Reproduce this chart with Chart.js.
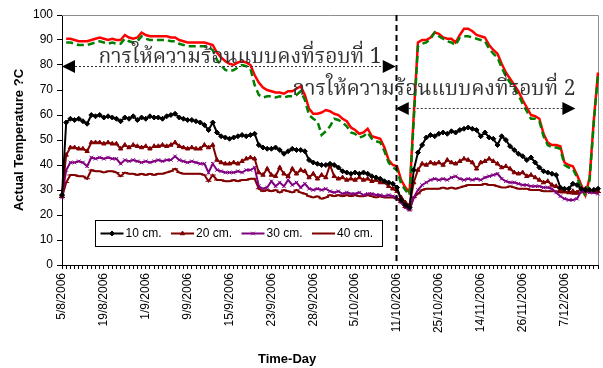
<!DOCTYPE html>
<html>
<head>
<meta charset="utf-8">
<script src="https://cdn.jsdelivr.net/npm/chart.js@4.4.1/dist/chart.umd.min.js"></script>
<style>
  html, body { margin: 0; padding: 0; background: #fff; }
  canvas { display: block; }
</style>
</head>
<body>
<canvas id="chart" width="603" height="368"></canvas>
<script>
// Dates printed under the axis, one every POINTS_PER_TICK readings
const tickDates = ['5/8/2006', '19/8/2006', '1/9/2006', '9/9/2006', '15/9/2006', '23/9/2006',
  '28/9/2006', '5/10/2006', '11/10/2006', '25/10/2006', '14/11/2006', '26/11/2006', '7/12/2006'];
const POINTS_PER_TICK = 10;

// Soil temperature (°C) at each depth
const depth10 = [
  28, 57, 58.5, 58, 58.5, 57.5, 56.5, 60, 59.5, 60,
  59, 59.5, 59, 58.5, 57.5, 59, 58.5, 59.5, 58, 59,
  58.5, 59.5, 59, 59, 58.5, 59.5, 60, 60.5, 59, 58.5,
  58, 58, 57.5, 57, 56, 54, 57, 53, 51.5, 51,
  50.5, 51, 51.5, 52, 51.5, 52, 52.5, 48, 47, 46.5,
  46.5, 47, 46, 44.5, 45.5, 46.5, 46, 46, 45.5, 42,
  41, 40.5, 40, 40, 40.5, 40, 39, 37.5, 37, 36.5,
  37, 36.5, 37, 36.5, 35.5, 35, 34.5, 33.5, 33, 32.5,
  31, 26, 24, 23, 38, 45, 48, 51, 52, 51.5,
  52.5, 53, 52.5, 53.5, 53, 54, 54.5, 55, 54.5, 54,
  51.5, 53, 51, 50.5, 48, 51.5, 50, 47.5, 46, 44.5,
  43.5, 42, 43, 41, 39, 37.5, 37, 36.5, 36, 31,
  30.5, 30.5, 32.5, 32, 30.5, 30, 30, 30, 30.5
];
const depth20 = [
  28, 44, 47, 47, 46.5, 46.5, 45.5, 49, 49, 49,
  48.5, 49, 48.5, 48.5, 46.5, 48, 47, 48, 47.5, 47,
  47.5, 46.5, 47.5, 47.5, 48, 47.5, 48, 49, 47.5, 47,
  46.5, 47, 46.5, 46.5, 48, 47, 48, 42, 41, 40.5,
  40.5, 41, 40.5, 41.5, 42.5, 43, 42.5, 37, 36, 38.5,
  36, 35.5, 39, 36.5, 35.5, 38.5, 36.5, 38, 37.5, 35,
  36.5, 34.5, 36, 35, 40, 35.5, 34.5, 35, 34, 34.5,
  34, 35, 34, 34.5, 33.5, 34, 33, 33, 31.5, 30.5,
  29.5, 27, 25, 24, 33, 38, 40.5, 40, 41, 40.5,
  41, 40, 42, 41, 40.5, 41.5, 42.5, 42, 41, 38.5,
  41, 41.5, 42.5, 41.5, 40.5, 39, 39.5, 38.5, 37, 36.5,
  37, 35.5, 36, 35, 34, 33, 33.5, 32, 31.5, 30,
  29.5, 29, 29.5, 29, 30.5, 30.5, 30, 30, 29.5
];
const depth30 = [
  27, 38, 41, 41, 41.5, 41, 39.5, 43, 42.5, 43,
  42.5, 43, 42.5, 42.5, 40.5, 42, 41.5, 42, 41.5, 41,
  41.5, 41, 41.5, 42, 41.5, 42, 42, 43.5, 42, 41.5,
  41, 41.5, 41, 40.5, 40.5, 37, 40.5, 38, 37.5, 37,
  37, 37, 37.5, 37, 38, 38, 39, 31.5, 30.5, 31,
  33.5, 31.5, 33, 31.5, 34, 32, 33, 31, 32.5, 30.5,
  30, 30.5, 30, 30.5, 29.5, 29, 29.5, 28.5, 29, 28.5,
  28.5, 29, 28, 28.5, 28.5, 28, 28, 27.5, 28, 27.5,
  27, 25, 23, 22, 27, 30, 32, 33, 34, 34.5,
  34, 34.5, 34, 35, 35.5, 34.5, 34, 34.5, 34, 34.5,
  34, 35, 35.5, 36, 36.5, 34.5, 33.5, 33, 33, 32.5,
  32, 32, 31.5, 31.5, 31.5, 31, 31, 30.5, 29, 27.5,
  26.5, 26, 26, 26.5, 29.5, 29.5, 29, 29, 28.5
];
const depth40 = [
  27, 33, 36, 36, 35.5, 35.5, 34.5, 38, 37.5, 37.5,
  37, 37.5, 37.5, 37, 35.5, 37, 36.5, 36.5, 36, 36.5,
  36, 36.5, 36, 36.5, 36.5, 37, 37.5, 38.5, 37, 36.5,
  36.5, 36.5, 36.5, 36.5, 36, 33.5, 36, 34, 34, 33.5,
  33.5, 34, 33.5, 34, 34, 34.5, 34.5, 30.5, 29.5, 30,
  29.5, 30, 29, 30, 29.5, 29, 30, 29, 28.5, 27.5,
  27, 27.5, 26.5, 27, 28, 27.5, 28, 27.5, 28, 27.5,
  28, 27.5, 27.5, 28, 27.5, 27, 27.5, 27, 27, 27,
  26.5, 25, 23, 22, 27, 28.5, 30, 30.5, 30.5, 30.5,
  30.5, 31, 30.5, 31, 30.5, 31, 31.5, 32, 32, 32,
  32, 32.5, 32, 32, 31.5, 31, 31, 31.5, 31, 30.5,
  30.5, 30.5, 30, 30, 30, 29.5, 29.5, 29.5, 29.5, 29,
  29, 29, 28.5, 28.5, 29, 29.5, 29, 29, 29
];
// Heat source temperatures (two probes)
const heatSourceA = [
  null, 90.5, 90.5, 90, 89.5, 89.5, 89.5, 90, 90.5, 91,
  90.5, 90, 90.5, 90, 90, 92, 91, 90.5, 91, 93,
  92, 91.5, 91.5, 91.5, 91.5, 91.5, 91, 91, 90, 89.5,
  89, 89, 89, 89, 89, 88.5, 88, 85, 83, 81.5,
  80.5, 80, 81, 81.5, 81, 80, 76, 73, 71, 70,
  69.5, 69, 69, 68.5, 69.5, 69.5, 70.5, 71.5, 68, 62.5,
  60.5, 60.5, 61, 62, 61.5, 60.5, 60, 58.5, 57.5, 55,
  54, 52.5, 53, 54.5, 51.5, 51, 50.5, 47, 42, 40,
  39.5, 34, 31, 29, 60, 89, 90, 90, 91, 93,
  92.5, 91, 90.5, 90.5, 89, 92, 94.5, 94.5, 93.5, 92,
  91.5, 91, 88, 86, 84.5, 80.5, 77, 74.5, 72, 69.5,
  66, 63, 60, 59.5, 58.5, 52.5, 49, 48, 48, 47.5,
  41, 40, 39.5, 36, 32, 28, 35, 58, 77
];
const heatSourceB = [
  null, 89, 89, 88.5, 88, 88, 88, 88.5, 89, 89.5,
  89, 88.5, 89, 88.5, 88.5, 90.5, 89.5, 89, 89.5, 91.5,
  90.5, 90, 90, 90, 90, 90, 89.5, 89.5, 88.5, 88,
  87.5, 87.5, 87.5, 87.5, 87.5, 87, 86, 82, 80, 78,
  77.5, 78, 79, 80, 79.5, 78.5, 72, 68, 67, 67.5,
  67.5, 67, 67.5, 67, 67.5, 67.5, 68, 69.5, 66, 60,
  58.5, 57.5, 52, 53.5, 55.5, 58.5, 58, 57, 55.5, 53,
  52.5, 51, 51.5, 53, 50.5, 49.5, 49, 45.5, 41, 39,
  38, 32.5, 30, 28, 58, 87.5, 88.5, 89, 90.5, 93,
  91.5, 90.5, 89.5, 89, 88, 91, 91.5, 91.5, 91, 90.5,
  90, 89.5, 86.5, 84.5, 83, 79, 75.5, 73, 70.5, 68,
  64.5, 61.5, 58.5, 58.5, 57.5, 51.5, 48, 47, 47, 46.5,
  40, 39, 38.5, 35, 31, 27.5, 34, 57, 76
];

// Heating periods: boundary between runs and arrow extents (reading index / °C)
const runBoundary = 79.7;
const run1Arrow = { from: 0, to: runBoundary, level: 79.5 };
const run2Arrow = { from: runBoundary, to: 122.6, level: 63 };
const runLabels = [
  { text: 'การให้ความร้อนแบบคงที่รอบที่ 1', at: 42.5, level: 82.2 },
  { text: 'การให้ความร้อนแบบคงที่รอบที่ 2', at: 88.8, level: 69.3 }
];

const categories = depth10.map((_, i) => (i % POINTS_PER_TICK === 0 ? tickDates[i / POINTS_PER_TICK] : ''));

const SANS = '"Liberation Sans", Arial, Helvetica, sans-serif';
const THAI = '"Norasi", "Kinnari", "Noto Serif Thai", "Noto Sans Thai", "Tlwg Typo", "Garuda", "Loma", "Sawasdee", serif';

// Grey plot-area frame on top and right
const plotFrame = {
  id: 'plotFrame',
  beforeDatasetsDraw(chart) {
    const { ctx, chartArea: a } = chart;
    ctx.save();
    ctx.strokeStyle = '#8c8c8c';
    ctx.lineWidth = 1;
    ctx.beginPath();
    ctx.moveTo(a.left, a.top + 0.5);
    ctx.lineTo(a.right + 0.5, a.top + 0.5);
    ctx.lineTo(a.right + 0.5, a.bottom);
    ctx.stroke();
    ctx.restore();
  }
};

function arrowHead(ctx, tipX, y, dir) {
  ctx.beginPath();
  ctx.moveTo(tipX, y);
  ctx.lineTo(tipX - dir * 13, y - 6.5);
  ctx.lineTo(tipX - dir * 13, y + 6.5);
  ctx.closePath();
  ctx.fill();
}

// Run boundary, run arrows and run captions
const runMarks = {
  id: 'runMarks',
  afterDatasetsDraw(chart) {
    const { ctx, chartArea: a, scales: { x, y } } = chart;
    ctx.save();
    const bx = Math.round(x.getPixelForValue(runBoundary)) + 0.5;
    ctx.strokeStyle = '#000';
    ctx.lineWidth = 2;
    ctx.setLineDash([6, 4]);
    ctx.beginPath();
    ctx.moveTo(bx, a.top);
    ctx.lineTo(bx, a.bottom);
    ctx.stroke();

    [run1Arrow, run2Arrow].forEach(r => {
      const x1 = x.getPixelForValue(r.from);
      const x2 = x.getPixelForValue(r.to);
      const yy = Math.round(y.getPixelForValue(r.level)) + 0.5;
      ctx.setLineDash([2, 2]);
      ctx.lineWidth = 1;
      ctx.strokeStyle = '#333';
      ctx.beginPath();
      ctx.moveTo(x1 + 13, yy);
      ctx.lineTo(x2 - 13, yy);
      ctx.stroke();
      ctx.setLineDash([]);
      ctx.fillStyle = '#000';
      arrowHead(ctx, x1, yy, -1);
      arrowHead(ctx, x2, yy, 1);
    });

    ctx.fillStyle = '#333';
    ctx.font = '21px ' + THAI;
    ctx.textAlign = 'center';
    ctx.textBaseline = 'middle';
    runLabels.forEach(l => {
      ctx.fillText(l.text, x.getPixelForValue(l.at), y.getPixelForValue(l.level));
    });
    ctx.restore();
  }
};

// Boxed legend inside the plot, and the horizontal axis title
const boxedLegend = {
  id: 'boxedLegend',
  afterDraw(chart) {
    const { ctx, chartArea: a } = chart;
    ctx.save();
    const bx = a.left + 33.5, by = a.top + 205.5, bw = 287, bh = 26;
    ctx.fillStyle = '#fff';
    ctx.fillRect(bx, by, bw, bh);
    ctx.strokeStyle = '#000';
    ctx.lineWidth = 1;
    ctx.strokeRect(bx, by, bw, bh);
    const cy = by + bh / 2;
    ctx.font = '12px ' + SANS;
    ctx.textBaseline = 'middle';
    ctx.textAlign = 'left';
    chart.data.datasets.slice(0, 4).forEach((ds, i) => {
      const x0 = bx + 5 + i * 70.5;
      ctx.strokeStyle = ds.borderColor;
      ctx.lineWidth = 2;
      ctx.beginPath();
      ctx.moveTo(x0, cy);
      ctx.lineTo(x0 + 23, cy);
      ctx.stroke();
      ctx.fillStyle = ds.borderColor;
      ctx.lineWidth = 1;
      Chart.helpers.drawPoint(ctx, { pointStyle: ds.pointStyle, radius: ds.pointRadius, borderWidth: 1, rotation: 0 }, x0 + 11.5, cy);
      ctx.fillStyle = '#000';
      ctx.fillText(ds.label, x0 + 25, cy + 0.5);
    });

    ctx.font = 'bold 13px ' + SANS;
    ctx.textAlign = 'center';
    ctx.textBaseline = 'middle';
    ctx.fillText('Time-Day', a.left + a.width * 0.42, chart.height - 9);
    ctx.restore();
  }
};

const depthStyle = (label, color, pointStyle, radius, order) => ({
  label, borderColor: color, backgroundColor: color,
  pointBackgroundColor: color, pointBorderColor: color,
  borderWidth: 2, pointStyle, pointRadius: radius, pointBorderWidth: 1, order
});

new Chart(document.getElementById('chart'), {
  type: 'line',
  data: {
    labels: categories,
    datasets: [
      Object.assign(depthStyle('10 cm.', '#000000', 'rectRot', 2.5, 0), { data: depth10 }),
      Object.assign(depthStyle('20 cm.', '#800000', 'triangle', 2.5, 1), { data: depth20 }),
      Object.assign(depthStyle('30 cm.', '#800080', 'crossRot', 2.5, 2), { data: depth30 }),
      Object.assign(depthStyle('40 cm.', '#800000', 'line', 3, 3), { data: depth40 }),
      { label: 'heat source B', data: heatSourceB, borderColor: '#008000', borderWidth: 2.5,
        borderDash: [7, 4], pointRadius: 0, order: 4 },
      { label: 'heat source A', data: heatSourceA, borderColor: '#ff0000', borderWidth: 2.5,
        pointRadius: 0, order: 5 }
    ]
  },
  options: {
    responsive: false,
    animation: false,
    devicePixelRatio: 1,
    layout: { padding: { top: 15, right: 2, left: 0, bottom: 0 } },
    elements: { line: { tension: 0 } },
    plugins: { legend: { display: false }, tooltip: { enabled: false } },
    scales: {
      x: {
        ticks: { autoSkip: false, maxRotation: 90, minRotation: 90, color: '#000',
                 font: { family: SANS, size: 12 }, padding: 4 },
        grid: { drawOnChartArea: false, tickLength: 4, color: '#000', lineWidth: 1 },
        border: { color: '#000', width: 1 },
        afterFit(s) { s.height = 103; s.paddingLeft = 0; s.paddingRight = 0; }
      },
      y: {
        min: 0, max: 100,
        ticks: { stepSize: 10, color: '#000', font: { family: SANS, size: 12 }, padding: 4 },
        grid: { drawOnChartArea: false, tickLength: 5, color: '#000' },
        border: { color: '#000', width: 1 },
        title: { display: true, text: 'Actual Temperature ?C', color: '#000',
                 font: { family: SANS, size: 13, weight: 'bold' }, padding: { top: 12, bottom: 0 } },
        afterFit(s) { s.width = 62; s.paddingTop = 0; s.paddingBottom = 0; }
      }
    }
  },
  plugins: [plotFrame, runMarks, boxedLegend]
});
</script>
</body>
</html>
